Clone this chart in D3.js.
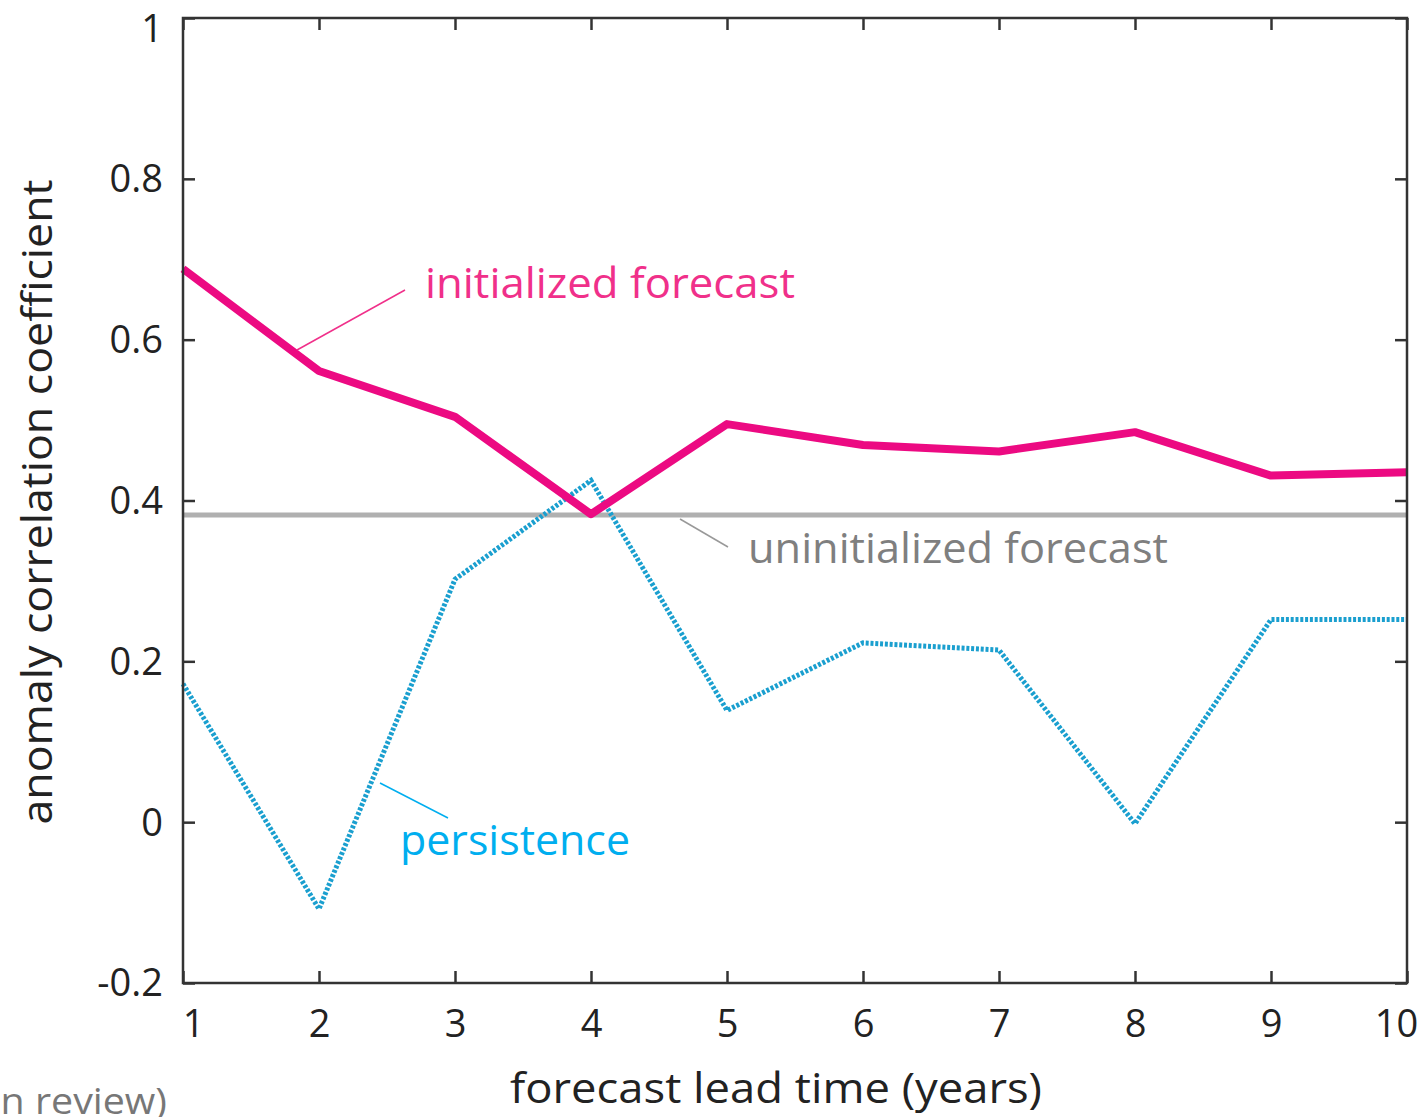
<!DOCTYPE html>
<html>
<head>
<meta charset="utf-8">
<script src="https://cdn.jsdelivr.net/npm/d3@7"></script>
<style>
  html, body { margin: 0; padding: 0; background: #fff; }
  svg { display: block; }
  text { font-family: "Open Sans", "Noto Sans", sans-serif; }
</style>
</head>
<body>
<svg id="chart" width="1426" height="1117"></svg>
<script>
const leadYears = [1, 2, 3, 4, 5, 6, 7, 8, 9, 10];
const initialized = [0.688, 0.561, 0.504, 0.383, 0.495, 0.469, 0.461, 0.485, 0.431, 0.435];
const persistence = [0.172, -0.108, 0.302, 0.425, 0.139, 0.223, 0.214, -0.002, 0.252, 0.252];
const uninitialized = [0.382, 0.382, 0.382, 0.382, 0.382, 0.382, 0.382, 0.382, 0.382, 0.382];
const yTicks = [-0.2, 0, 0.2, 0.4, 0.6, 0.8, 1];
const yTickLabels = ["-0.2", "0", "0.2", "0.4", "0.6", "0.8", "1"];
const xTickLabels = ["1", "2", "3", "4", "5", "6", "7", "8", "9", "10"];

const svg = d3.select("#chart");
const L = 183, R = 1407, T = 18, B = 983;
const x = d3.scaleLinear().domain([1, 10]).range([L, R]);
const y = d3.scaleLinear().domain([-0.2, 1]).range([B, T]);

const axisColor = "#333";
const tickLen = 12;

// series lines
const line = d3.line().x((d, i) => x(leadYears[i])).y(d => y(d));

svg.append("path").datum(uninitialized)
  .attr("d", line).attr("fill", "none")
  .attr("stroke", "#b0b0b0").attr("stroke-width", 5);

svg.append("path").datum(persistence)
  .attr("d", line).attr("fill", "none")
  .attr("stroke", "#1a9fcf").attr("stroke-width", 5)
  .attr("stroke-dasharray", "3,1.8");

svg.append("path").datum(initialized)
  .attr("d", line).attr("fill", "none")
  .attr("stroke", "#ec0a82").attr("stroke-width", 8)
  .attr("stroke-linejoin", "round");

// frame with inward ticks (all four sides)
const frame = svg.append("g");
const xAxisB = d3.axisBottom(x).tickValues(leadYears).tickSize(-tickLen).tickFormat((d, i) => xTickLabels[i]).tickPadding(27);
const xAxisT = d3.axisTop(x).tickValues(leadYears).tickSize(-tickLen).tickFormat("");
const yAxisL = d3.axisLeft(y).tickValues(yTicks).tickSize(-tickLen).tickFormat((d, i) => yTickLabels[i]).tickPadding(20);
const yAxisR = d3.axisRight(y).tickValues(yTicks).tickSize(-tickLen).tickFormat("");

function styleAxis(g) {
  g.select(".domain").remove();
  g.selectAll(".tick line").attr("stroke", axisColor).attr("stroke-width", 2.5);
  g.selectAll(".tick text").attr("fill", "#222").style("font-size", "38px")
    .style("font-family", '"Open Sans", "Noto Sans", sans-serif');
}
const gxB = frame.append("g").attr("transform", `translate(0,${B})`).call(xAxisB).call(styleAxis);
frame.append("g").attr("transform", `translate(0,${T})`).call(xAxisT).call(styleAxis);
const gyL = frame.append("g").attr("transform", `translate(${L},0)`).call(yAxisL).call(styleAxis);
frame.append("g").attr("transform", `translate(${R},0)`).call(yAxisR).call(styleAxis);

// first/last x labels sit slightly inward, as in the reference
gxB.selectAll(".tick text").attr("dx", (d, i) => i === 0 ? 10 : (i === leadYears.length - 1 ? -11 : 0));
// top "1" label sits a little low
gyL.selectAll(".tick text").attr("dy", d => d === 1 ? "0.62em" : "0.34em");

frame.append("rect").attr("x", L).attr("y", T).attr("width", R - L).attr("height", B - T)
  .attr("fill", "none").attr("stroke", axisColor).attr("stroke-width", 2.5);

// annotations
svg.append("line").attr("x1", 297).attr("y1", 350).attr("x2", 405).attr("y2", 290)
  .attr("stroke", "#f0308a").attr("stroke-width", 1.5);
svg.append("text").attr("x", 425).attr("y", 298).attr("fill", "#f0308a")
  .style("font-size", "42px").attr("textLength", 370).attr("lengthAdjust", "spacingAndGlyphs")
  .text("initialized forecast");
svg.append("line").attr("x1", 680).attr("y1", 519).attr("x2", 728).attr("y2", 547)
  .attr("stroke", "#999").attr("stroke-width", 1.5);
svg.append("text").attr("x", 748).attr("y", 563).attr("fill", "#7f7f7f")
  .style("font-size", "42px").attr("textLength", 420).attr("lengthAdjust", "spacingAndGlyphs")
  .text("uninitialized forecast");
svg.append("line").attr("x1", 380).attr("y1", 783).attr("x2", 448).attr("y2", 818)
  .attr("stroke", "#00aeef").attr("stroke-width", 1.5);
svg.append("text").attr("x", 400).attr("y", 855).attr("fill", "#00aeef")
  .style("font-size", "42px").attr("textLength", 230).attr("lengthAdjust", "spacingAndGlyphs")
  .text("persistence");

// axis titles
svg.append("text").attr("x", 776).attr("y", 1103).attr("text-anchor", "middle")
  .attr("fill", "#222").style("font-size", "42px")
  .attr("textLength", 532).attr("lengthAdjust", "spacingAndGlyphs")
  .text("forecast lead time (years)");
svg.append("text").attr("transform", "translate(52,502) rotate(-90)").attr("text-anchor", "middle")
  .attr("fill", "#222").style("font-size", "42px")
  .attr("textLength", 645).attr("lengthAdjust", "spacingAndGlyphs")
  .text("anomaly correlation coefficient");

// cropped source note (cut off at the left edge, as in the reference)
svg.append("text").attr("x", 167).attr("y", 1114).attr("text-anchor", "end")
  .attr("fill", "#777").style("font-size", "36px")
  .attr("textLength", 188).attr("lengthAdjust", "spacingAndGlyphs")
  .text("(in review)");
</script>
</body>
</html>
